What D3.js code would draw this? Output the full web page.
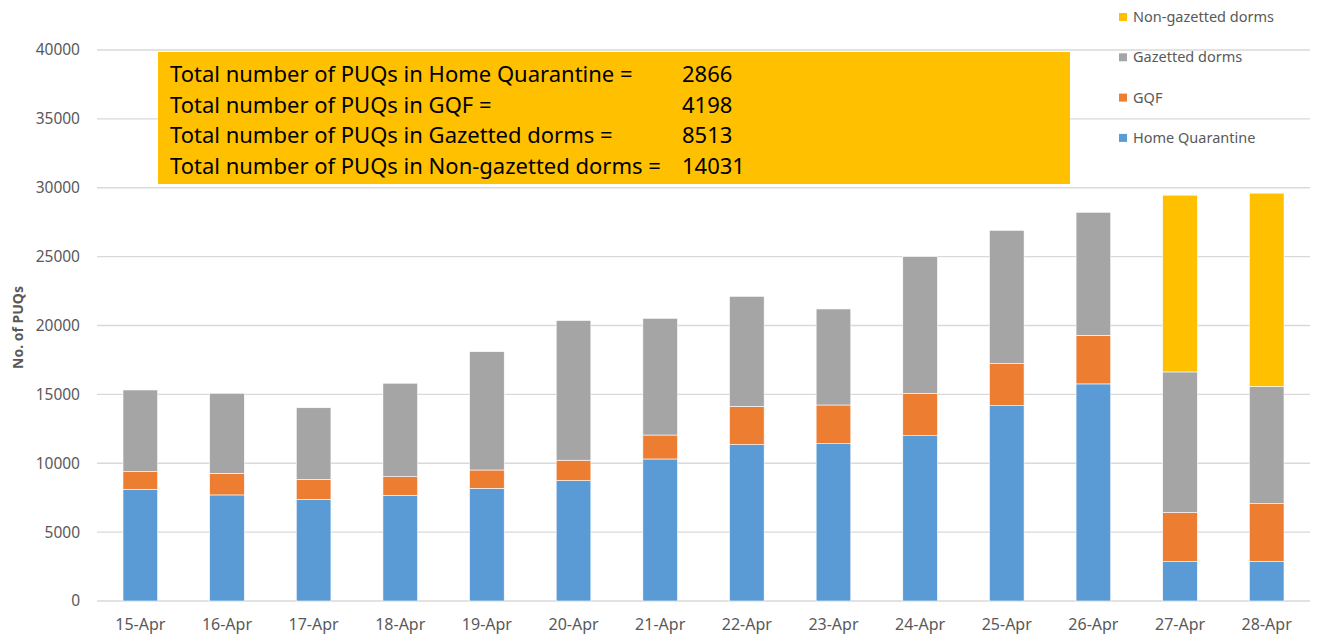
<!DOCTYPE html>
<html>
<head>
<meta charset="utf-8">
<script src="https://cdn.jsdelivr.net/npm/d3@7"></script>
<style>
  body { margin: 0; background: #fff; }
  text { font-family: "Noto Sans", "Open Sans", sans-serif; }
</style>
</head>
<body>
<div id="chart"></div>
<script>
// data
var dates = ["15-Apr","16-Apr","17-Apr","18-Apr","19-Apr","20-Apr","21-Apr",
             "22-Apr","23-Apr","24-Apr","25-Apr","26-Apr","27-Apr","28-Apr"];
var homeQuarantine = [8110, 7700, 7380, 7670, 8180, 8740, 10310, 11350, 11420, 12000, 14180, 15760, 2860, 2866];
var gqf            = [1280, 1570, 1450, 1360, 1330, 1480, 1740, 2780, 2810, 3080, 3050, 3530, 3560, 4198];
var gazettedDorms  = [5930, 5810, 5200, 6780, 8590, 10140, 8470, 7990, 6970, 9920, 9680, 8930, 10210, 8513];
var nonGazetted    = [0, 0, 0, 0, 0, 0, 0, 0, 0, 0, 0, 0, 12830, 14031];
var yTicks = [0, 5000, 10000, 15000, 20000, 25000, 30000, 35000, 40000];

var seriesNames = ["Home Quarantine", "GQF", "Gazetted dorms", "Non-gazetted dorms"];
var seriesColors = ["#5b9bd5", "#ed7d31", "#a5a5a5", "#ffc000"];

var boxLines = [
  ["Total number of PUQs in Home Quarantine =", "2866"],
  ["Total number of PUQs in GQF =", "4198"],
  ["Total number of PUQs in Gazetted dorms =", "8513"],
  ["Total number of PUQs in Non-gazetted dorms =", "14031"]
];

var W = 1319, H = 639;
var margin = {top: 50, right: 9, bottom: 38, left: 97};
var width = W - margin.left - margin.right,
    height = H - margin.top - margin.bottom;

var svg = d3.select("#chart").append("svg")
    .attr("width", W)
    .attr("height", H)
  .append("g")
    .attr("transform", "translate(" + margin.left + "," + margin.top + ")");

var rows = dates.map(function(d, i) {
  return {date: d, "Home Quarantine": homeQuarantine[i], "GQF": gqf[i],
          "Gazetted dorms": gazettedDorms[i], "Non-gazetted dorms": nonGazetted[i]};
});
var stacked = d3.stack().keys(seriesNames)(rows);

var x = d3.scaleBand().domain(dates).range([0, width]).paddingInner(0.6).paddingOuter(0.3);
var y = d3.scaleLinear().domain([0, 40000]).range([height, 0]);
var color = d3.scaleOrdinal().domain(seriesNames).range(seriesColors);

// gridlines
svg.append("g")
  .selectAll("line")
  .data(yTicks)
  .enter().append("line")
    .attr("x1", 0).attr("x2", width)
    .attr("y1", d => y(d)).attr("y2", d => y(d))
    .style("stroke", "#d9d9d9").style("stroke-width", 1.3);

// y axis labels
var yAxis = svg.append("g")
  .call(d3.axisLeft(y).tickValues(yTicks).tickSize(0).tickPadding(17).tickFormat(d3.format("d")));
yAxis.select(".domain").remove();
yAxis.selectAll("text").style("font-size", "15.5px").style("fill", "#595959");

// x axis labels
var xAxis = svg.append("g")
  .attr("transform", "translate(0," + height + ")")
  .call(d3.axisBottom(x).tickSize(0).tickPadding(18));
xAxis.select(".domain").remove();
xAxis.selectAll("text").style("font-size", "16px").style("fill", "#595959");

// y axis title
svg.append("text")
  .attr("transform", "rotate(-90)")
  .attr("x", -(y(20000) + 2))
  .attr("y", -74)
  .style("text-anchor", "middle")
  .style("font-size", "14px")
  .style("font-weight", "bold")
  .style("fill", "#595959")
  .text("No. of PUQs");

// bars
svg.append("g")
  .selectAll("g")
  .data(stacked)
  .enter().append("g")
    .style("fill", d => color(d.key))
  .selectAll("rect")
  .data(d => d)
  .enter().append("rect")
    .attr("x", d => x(d.data.date))
    .attr("width", x.bandwidth())
    .attr("y", d => y(d[1]))
    .attr("height", d => y(d[0]) - y(d[1]))
    .style("stroke", "#ffffff")
    .style("stroke-width", 0.6);

// info box
var box = svg.append("g").attr("transform", "translate(61,2)");
box.append("rect")
  .attr("width", 912).attr("height", 132)
  .style("fill", "#ffc000");
box.selectAll(".bl")
  .data(boxLines)
  .enter().append("text")
    .attr("class", "bl")
    .attr("x", 12)
    .attr("y", (d, i) => 30 + i * 30.5)
    .style("font-size", "22px")
    .style("fill", "#000")
    .text(d => d[0]);
box.selectAll(".bn")
  .data(boxLines)
  .enter().append("text")
    .attr("class", "bn")
    .attr("x", 524)
    .attr("y", (d, i) => 30 + i * 30.5)
    .style("font-size", "22px")
    .style("fill", "#000")
    .text(d => d[1]);

// legend (top to bottom: reversed series)
var legend = svg.selectAll(".legend")
  .data(seriesNames.slice().reverse())
  .enter().append("g")
    .attr("class", "legend")
    .attr("transform", (d, i) => "translate(1022," + (-33 + i * 40.3) + ")");
legend.append("rect")
  .attr("x", 0).attr("y", -4)
  .attr("width", 8).attr("height", 8)
  .style("fill", color);
legend.append("text")
  .attr("x", 14)
  .attr("y", 0)
  .attr("dy", "0.35em")
  .style("font-size", "14.5px")
  .style("fill", "#595959")
  .text(d => d);
</script>
</body>
</html>
